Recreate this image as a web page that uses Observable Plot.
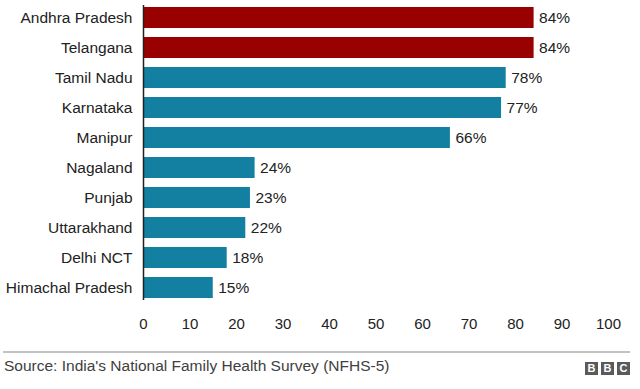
<!DOCTYPE html>
<html>
<head>
<meta charset="utf-8">
<script src="https://cdn.jsdelivr.net/npm/d3@7"></script>
<script src="https://cdn.jsdelivr.net/npm/@observablehq/plot@0.6"></script>
<style>
  html, body { margin: 0; padding: 0; background: #fff; }
  body { position: relative; width: 640px; height: 389px; overflow: hidden; font-family: "Liberation Sans", Arial, sans-serif; }
  #chart { position: absolute; left: 0; top: 0; }
  #rule { position: absolute; left: 3px; top: 351px; width: 627px; height: 2px; background: #c2c2c2; }
  #source { position: absolute; left: 4px; top: 357px; font-size: 15.5px; line-height: 18px; color: #404040; white-space: nowrap; }
  #logo { position: absolute; left: 585px; top: 362px; display: flex; gap: 3px; }
  #logo span { display: block; width: 13px; height: 13px; background: #5a5a5a; color: #fff; font: bold 11px/13px "Liberation Sans", Arial, sans-serif; text-align: center; }
</style>
</head>
<body>
<div id="chart"></div>
<div id="rule"></div>
<div id="source">Source: India's National Family Health Survey (NFHS-5)</div>
<div id="logo"><span>B</span><span>B</span><span>C</span></div>
<script>
const states = ["Andhra Pradesh", "Telangana", "Tamil Nadu", "Karnataka", "Manipur", "Nagaland", "Punjab", "Uttarakhand", "Delhi NCT", "Himachal Pradesh"];
const values = [84, 84, 78, 77, 66, 24, 23, 22, 18, 15];
const highlighted = ["Andhra Pradesh", "Telangana"];
const xTicks = [0, 10, 20, 30, 40, 50, 60, 70, 80, 90, 100];

const data = states.map((s, i) => ({state: s, value: values[i], hi: highlighted.includes(s)}));

const chart = Plot.plot({
  width: 640,
  height: 340,
  marginTop: 5,
  marginBottom: 40,
  marginLeft: 143,
  marginRight: 32,
  style: {fontFamily: "'Liberation Sans', Arial, sans-serif", fontSize: "15.5px", color: "#222", background: "#fff"},
  x: {domain: [0, 100], ticks: xTicks, label: null},
  y: {domain: states, paddingInner: 0.29, paddingOuter: 0.02, label: null},
  marks: [
    Plot.barX(data, {x: "value", y: "state", fill: d => d.hi ? "#990000" : "#1380A1"}),
    Plot.ruleX([0], {stroke: "#222", strokeWidth: 1.5}),
    Plot.text(data, {x: "value", y: "state", text: d => d.value + "%", textAnchor: "start", dx: 5, fill: "#222", fontSize: 15.5}),
    Plot.axisX({ticks: xTicks, tickSize: 0, tickPadding: 18, label: null, fontSize: 15, tickFormat: d => String(d)}),
    Plot.axisY({tickSize: 0, tickPadding: 11, label: null, fontSize: 15.5})
  ]
});
document.getElementById("chart").appendChild(chart);
</script>
</body>
</html>
